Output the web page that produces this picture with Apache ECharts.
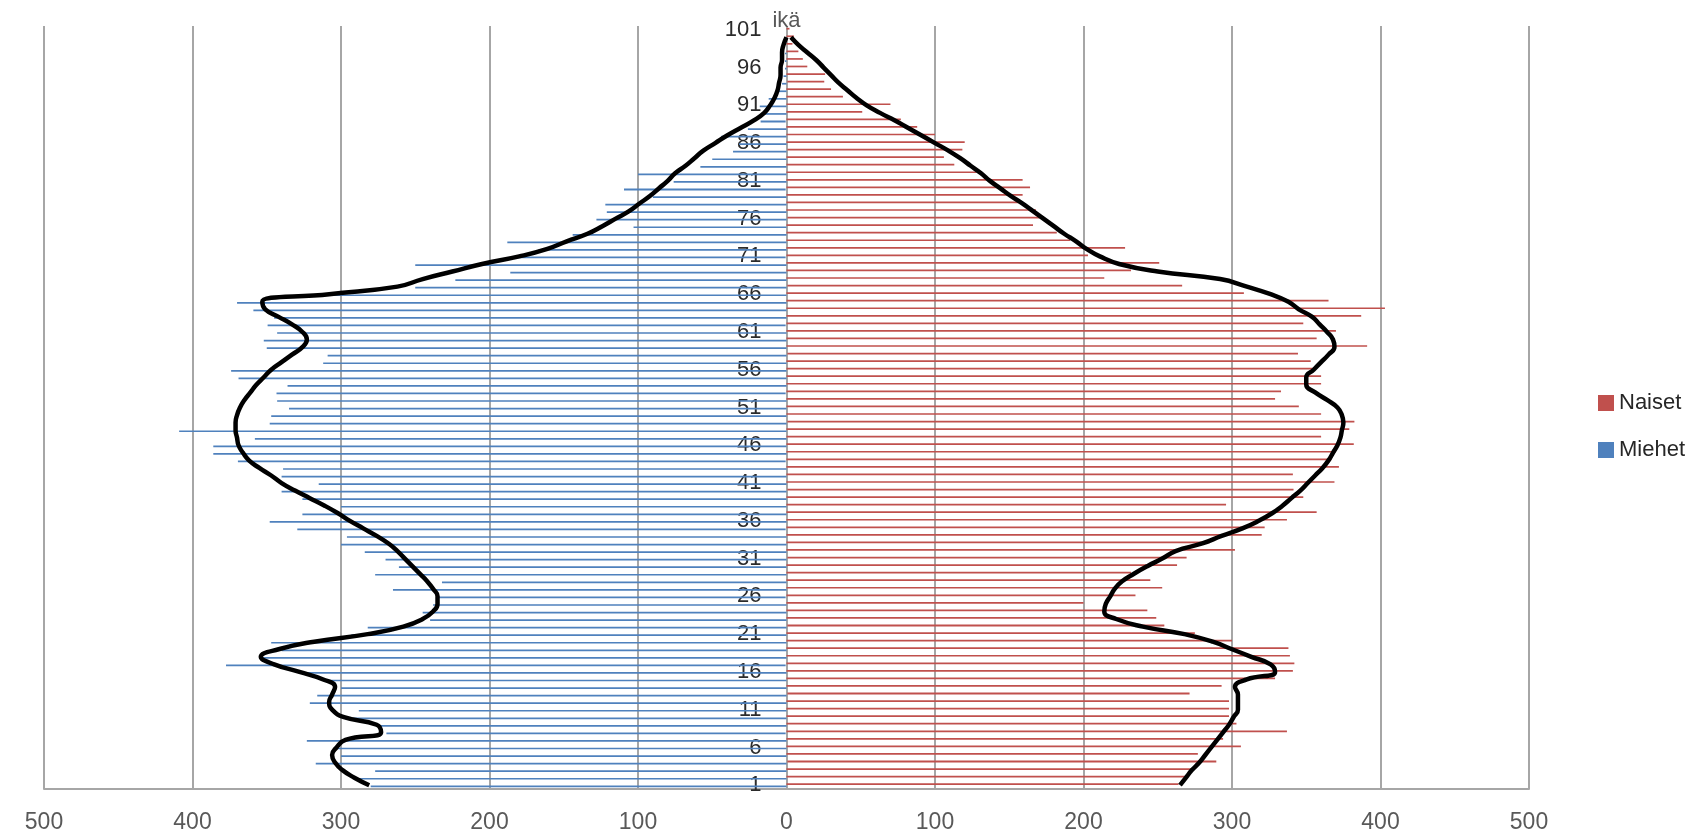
<!DOCTYPE html>
<html>
<head>
<meta charset="utf-8">
<script src="https://cdn.jsdelivr.net/npm/echarts@6/dist/echarts.min.js"></script>
<style>html,body{margin:0;padding:0;background:#fff}#chart{width:1696px;height:836px}</style>
</head>
<body>
<div id="chart"></div>
<script>
// Age categories 1..101
const ages = [];
for (let a = 1; a <= 101; a++) ages.push(String(a));

const xTicks = [-500, -400, -300, -200, -100, 0, 100, 200, 300, 400, 500];

// Men (Miehet) by age 1..101 (magnitudes)
const miehet = [
  280, 289, 277, 317, 300, 302, 323, 270, 275, 292,
  288, 321, 316, 300, 312, 323, 378, 355, 340, 347,
  293, 282, 240, 245, 238, 235, 265, 232, 277, 261,
  270, 284, 300, 296, 330, 348, 326, 300, 326, 340,
  315, 340, 339, 370, 386, 386, 358, 409, 348, 347,
  335, 343, 344, 336, 369, 374, 312, 309, 350, 352,
  343, 350, 345, 359, 370, 312, 250, 223, 186, 250,
  185, 167, 188, 144, 103, 128, 121, 122, 90, 110,
  76, 100, 58, 50, 36, 32, 44, 26, 18, 16,
  18, 12, 6, 3, 2, 1, 1, 1, 0, 0,
  0
];

// Women (Naiset) by age 1..101
const naiset = [
  264, 269, 274, 290, 277, 306, 294, 337, 303, 298,
  298, 298, 272, 293, 329, 341, 342, 339, 338, 300,
  275, 255, 249, 243, 200, 235, 253, 245, 232, 263,
  270, 302, 285, 320, 322, 337, 357, 296, 348, 342,
  369, 341, 372, 367, 370, 382, 360, 379, 383, 360,
  345, 329, 333, 360, 360, 356, 353, 345, 391, 357,
  370, 348, 387, 403, 365, 308, 267, 214, 232, 251,
  203, 228, 191, 182, 166, 171, 168, 159, 159, 164,
  159, 128, 113, 106, 119, 120, 100, 88, 77, 51,
  70, 38, 30, 26, 26, 14, 11, 8, 4, 5,
  2
];

// Smoothed trend curves (magnitudes), age 1..101
const miehetTrend = [
  281, 291, 299, 304, 306, 303, 297, 273, 276, 298,
  306, 308, 306, 304, 312, 328, 345, 354, 342, 318,
  282, 258, 245, 238, 235, 235, 238, 242, 247, 252,
  257, 262, 268, 276, 285, 294, 302, 311, 321, 331,
  340, 347, 355, 362, 366, 369, 370, 371, 371, 370,
  368, 365, 361, 357, 352, 347, 340, 333, 326, 323,
  326, 333, 342, 351, 353, 308, 262, 245, 225, 205,
  180, 161, 148, 134, 124, 115, 106, 99, 92, 86,
  80, 75, 68, 62, 56, 48, 40, 31, 22, 15,
  11, 8, 6, 5, 4, 4, 3, 3, 2, 0,
  null
];

const naisetTrend = [
  265, 269, 273, 278, 282, 286, 290, 294, 298, 301,
  304, 304, 304, 302, 310, 329, 326, 313, 300, 287,
  268, 240, 222, 214, 215, 218, 221, 226, 234, 243,
  253, 262, 280, 293, 307, 318, 327, 334, 340, 346,
  351, 356, 361, 365, 368, 371, 373, 374, 375, 374,
  371, 364, 356, 350, 350, 355, 360, 365, 369, 368,
  364, 359, 354, 345, 338, 326, 310, 292, 250, 224,
  211, 202, 195, 187, 180, 173, 166, 159, 151, 144,
  137, 131, 124, 117, 109, 100, 91, 82, 73, 63,
  54, 47, 41, 35, 30, 25, 20, 14, 8, 3,
  null
];

// Styling: ages whose bars render slightly thicker in the original
const thickMiehet = [8, 17, 26, 35, 44, 53, 62, 71, 80, 89];
const thickNaiset = [4, 13, 22, 31, 40, 49, 58, 67, 76, 85, 94];

const RED = '#C0504D';
const BLUE = '#4F81BD';
const FONT = 'Liberation Sans';

const GRID_LEFT = 44, GRID_RIGHT = 167, CHART_W = 1696;
const gridWidth = CHART_W - GRID_LEFT - GRID_RIGHT;
// shift the category axis from the grid's left edge to the value 0
const zeroOffset = -gridWidth * (0 - xTicks[0]) / (xTicks[xTicks.length - 1] - xTicks[0]);

function barData(values, sign, thick, color) {
  return values.map((v, i) => {
    const age = i + 1;
    if (thick.indexOf(age) >= 0) {
      return { value: sign * v, itemStyle: { borderColor: color, borderWidth: 1.8 } };
    }
    return sign * v;
  });
}

const chart = echarts.init(document.getElementById('chart'), null, { renderer: 'canvas' });
chart.setOption({
  animation: false,
  backgroundColor: '#ffffff',
  textStyle: { fontFamily: FONT },
  grid: { left: GRID_LEFT, right: GRID_RIGHT, top: 26, bottom: 47, containLabel: false, outerBoundsMode: 'none' },
  legend: {
    orient: 'vertical',
    left: 1593,
    top: 386,
    data: ['Naiset', 'Miehet'],
    icon: 'rect',
    itemWidth: 16,
    itemHeight: 16,
    itemGap: 23,
    itemStyle: { borderWidth: 0 },
    textStyle: { fontSize: 22, color: '#262626', fontFamily: FONT, lineHeight: 24 }
  },
  xAxis: {
    type: 'value',
    min: xTicks[0],
    max: xTicks[xTicks.length - 1],
    interval: 100,
    axisLine: { show: true, lineStyle: { color: '#A6A6A6', width: 2 } },
    axisTick: { show: false },
    splitLine: { show: true, lineStyle: { color: '#A6A6A6', width: 2 } },
    axisLabel: {
      fontSize: 23,
      color: '#595959',
      margin: 22,
      formatter: v => String(Math.abs(v))
    }
  },
  yAxis: {
    type: 'category',
    data: ages,
    boundaryGap: true,
    position: 'left',
    offset: zeroOffset,
    name: 'ikä',
    nameLocation: 'end',
    nameGap: -6,
    nameTextStyle: { fontSize: 22, color: '#595959', fontFamily: FONT },
    axisLine: { show: false, onZero: false },
    axisTick: { show: false },
    splitLine: { show: false },
    axisLabel: {
      interval: 4,
      fontSize: 22,
      color: '#2b2b2b',
      margin: 25
    }
  },
  series: [
    {
      name: 'Naiset',
      type: 'bar',
      barWidth: 1.7,
      barGap: '25%',
      itemStyle: { color: RED },
      data: barData(naiset, 1, thickNaiset, RED),
      z: 2
    },
    {
      name: 'Miehet',
      type: 'bar',
      barWidth: 1.7,
      barGap: '25%',
      itemStyle: { color: BLUE },
      data: barData(miehet, -1, thickMiehet, BLUE),
      z: 2
    },
    {
      name: 'Naiset trendi',
      type: 'line',
      smooth: 0.5,
      symbol: 'none',
      lineStyle: { color: '#000000', width: 4.5 },
      data: naisetTrend,
      z: 5
    },
    {
      name: 'Miehet trendi',
      type: 'line',
      smooth: 0.5,
      symbol: 'none',
      lineStyle: { color: '#000000', width: 4.5 },
      data: miehetTrend.map(v => v === null ? null : -v),
      z: 5
    }
  ]
});
</script>
</body>
</html>
